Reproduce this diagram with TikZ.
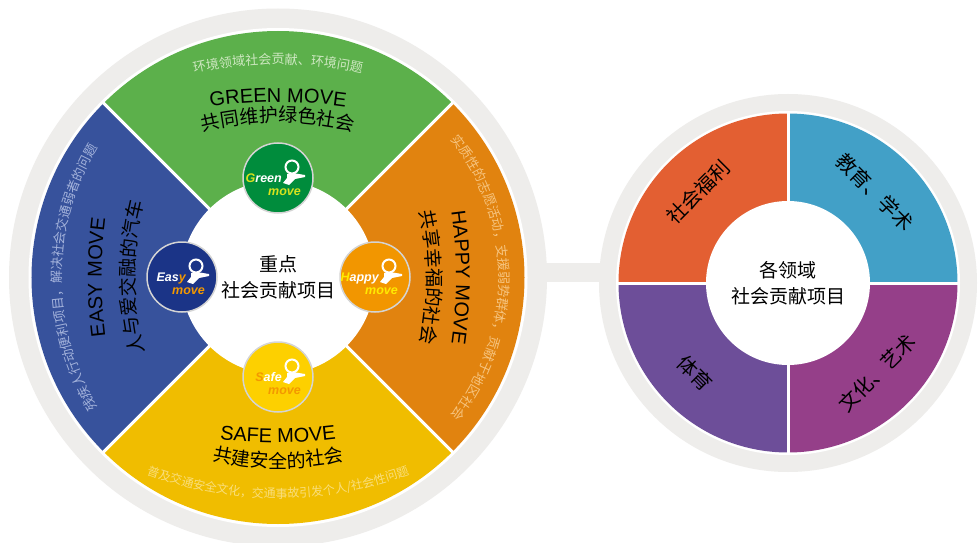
\documentclass[tikz,border=0pt]{standalone}
\usepackage{fontspec}
\setmainfont{Noto Sans CJK SC}
\newfontfamily\latinfont{Liberation Sans}
\usetikzlibrary{calc,decorations.text}

\definecolor{ringgray}{HTML}{EEEDEB}
\definecolor{greenpart}{HTML}{5CB04B}
\definecolor{bluepart}{HTML}{37529C}
\definecolor{orangepart}{HTML}{E1830F}
\definecolor{yellowpart}{HTML}{F0BD00}
\definecolor{greensub}{HTML}{CDE7C0}
\definecolor{bluesub}{HTML}{A3B2DB}
\definecolor{orangesub}{HTML}{F6C47F}
\definecolor{yellowsub}{HTML}{F9DE7C}
\definecolor{welfare}{HTML}{E35F32}
\definecolor{education}{HTML}{42A0C7}
\definecolor{sports}{HTML}{6D4E99}
\definecolor{culture}{HTML}{953F89}
\definecolor{greenlogo}{HTML}{008C3C}
\definecolor{easylogo}{HTML}{1B3487}
\definecolor{happylogo}{HTML}{F29600}
\definecolor{safelogo}{HTML}{FDD000}
\definecolor{logoedge}{HTML}{D4D4D4}
\definecolor{limetext}{HTML}{D7E21E}
\definecolor{ambertext}{HTML}{F39800}
\definecolor{lemontext}{HTML}{FFEA00}

\newcommand{\cjksub}{\fontsize{13}{13}\selectfont}
\newcommand{\cjktitle}{\fontsize{19}{19}\selectfont}
\newcommand{\lattitle}{\latinfont\fontsize{20}{20}\selectfont}

\tikzset{
  logo/.style={circle, draw=logoedge, line width=1.5pt, minimum size=70pt, inner sep=0pt},
  logoword/.style={font=\latinfont\bfseries\itshape\fontsize{12.5}{13}\selectfont, inner sep=0pt, text=white},
  centretext/.style={align=center, font=\fontsize{19}{25.5}\selectfont, inner sep=0pt},
  fieldlabel/.style={font=\fontsize{20}{20}\selectfont, inner sep=0pt},
  arctext/.style={decorate, decoration={text along path, text align=center, text color=#1}},
  arctext/.default=black
}

% logo: name, position, fill, word, colour of move
\newcommand{\movelogo}[5]{%
  \node[logo, fill=#3] (#1) at #2 {};
  \draw[white, line width=2pt] ($(#1)+(14,11)$) circle[radius=6.5pt];
  \fill[white] ($(#1)+(9,4)$) -- ($(#1)+(15,5)$) -- ($(#1)+(27,3)$) -- ($(#1)+(27,1)$)
    -- ($(#1)+(17,-1)$) -- ($(#1)+(11,-7)$) -- ($(#1)+(5,-5)$) -- ($(#1)+(9,0)$) -- cycle;
  \node[logoword, anchor=base east] (#1word) at ($(#1)+(4,-4)$) {#4};
  \node[logoword, anchor=base west, text=#5] (#1move) at ($(#1)+(-10,-17)$) {move};
}

\begin{document}
\begin{tikzpicture}[x=1pt, y=1pt]
\useasboundingbox (0,0) rectangle (978,-543);
\fill[white] (0,0) rectangle (978,-543);
\coordinate (L) at (278,-277.5);
\coordinate (R) at (788,-283);

% grey frames and the bar between them
\fill[ringgray] (535,-263) rectangle (612,-282);
\fill[ringgray] (L) circle[radius=269pt];
\fill[white] (L) circle[radius=249.5pt];
\fill[ringgray] (R) circle[radius=189pt];
\fill[white] (R) circle[radius=172pt];

% key projects
\fill[greenpart] (L) -- ($(L)+(45:246.5pt)$) arc[start angle=45, end angle=135, radius=246.5pt] -- cycle;
\fill[bluepart] (L) -- ($(L)+(135:246.5pt)$) arc[start angle=135, end angle=225, radius=246.5pt] -- cycle;
\fill[yellowpart] (L) -- ($(L)+(225:246.5pt)$) arc[start angle=225, end angle=315, radius=246.5pt] -- cycle;
\fill[orangepart] (L) -- ($(L)+(-45:246.5pt)$) arc[start angle=-45, end angle=45, radius=246.5pt] -- cycle;
\foreach \a in {45,135,225,315}
  \draw[white, line width=3pt] (L) -- ($(L)+(\a:248pt)$);
\fill[white] (L) circle[radius=97pt];

% fields
\fill[education] (R) -- ($(R)+(0:169.5pt)$) arc[start angle=0, end angle=90, radius=169.5pt] -- cycle;
\fill[welfare] (R) -- ($(R)+(90:169.5pt)$) arc[start angle=90, end angle=180, radius=169.5pt] -- cycle;
\fill[sports] (R) -- ($(R)+(180:169.5pt)$) arc[start angle=180, end angle=270, radius=169.5pt] -- cycle;
\fill[culture] (R) -- ($(R)+(270:169.5pt)$) arc[start angle=270, end angle=360, radius=169.5pt] -- cycle;
\foreach \a in {0,90,180,270}
  \draw[white, line width=3pt] (R) -- ($(R)+(\a:171pt)$);
\fill[white] (R) circle[radius=82pt];

% green move
\path[arctext=greensub, decoration={text={|\cjksub|环境领域社会贡献、环境问题}}]
  ($(278,-459)+(110:395pt)$) arc[start angle=110, end angle=70, radius=395pt];
\path[arctext, decoration={text={|\lattitle|GREEN MOVE}}]
  ($(278,-578)+(105:476pt)$) arc[start angle=105, end angle=75, radius=476pt];
\path[arctext, decoration={text={|\cjktitle|共同维护绿色社会}}]
  ($(278,-424)+(110:302pt)$) arc[start angle=110, end angle=70, radius=302pt];

% happy move
\path[arctext=orangesub, decoration={text={|\cjksub|实质性的志愿活动，支援弱势群体，贡献于地区社会}}]
  ($(L)+(50:221pt)$) arc[start angle=50, end angle=-50, radius=221pt];
\path[arctext, decoration={text={|\lattitle|HAPPY MOVE}}]
  ($(-20,-277.5)+(15:476pt)$) arc[start angle=15, end angle=-15, radius=476pt];
\path[arctext, decoration={text={|\cjktitle|共享幸福的社会}}]
  ($(125,-277.5)+(20:302pt)$) arc[start angle=20, end angle=-20, radius=302pt];

% easy move
\path[arctext=bluesub, decoration={text={|\cjksub|残疾人行动便利项目，解决社会交通弱者的问题}}]
  ($(313.7,-277.5)+(215:252pt)$) arc[start angle=215, end angle=145, radius=252pt];
\path[arctext, decoration={text={|\lattitle|EASY MOVE}}]
  ($(577.7,-277.5)+(195:476pt)$) arc[start angle=195, end angle=165, radius=476pt];
\path[arctext, decoration={text={|\cjktitle|人与爱交融的汽车}}]
  ($(436.7,-277.5)+(200:302pt)$) arc[start angle=200, end angle=160, radius=302pt];

% safe move
\path[arctext=yellowsub, decoration={text={|\fontsize{12}{12}\selectfont|普及交通安全文化，交通事故引发个人/社会性问题}}]
  ($(278,-123)+(245:375pt)$) arc[start angle=245, end angle=295, radius=375pt];
\path[arctext, decoration={text={|\lattitle|SAFE MOVE}}]
  ($(278,33.3)+(255:476pt)$) arc[start angle=255, end angle=285, radius=476pt];
\path[arctext, decoration={text={|\cjktitle|共建安全的社会}}]
  ($(278,-166)+(250:302pt)$) arc[start angle=250, end angle=290, radius=302pt];

\node[centretext] (keytext) at (L) {重点\\社会贡献项目};

% logos
\movelogo{greenmark}{(278,-178)}{greenlogo}{\textcolor{limetext}{G}reen}{limetext}
\movelogo{easymark}{(182,-277)}{easylogo}{Eas\textcolor{ambertext}{y}}{ambertext}
\movelogo{happymark}{(375,-277)}{happylogo}{\textcolor{lemontext}{H}appy}{lemontext}
\movelogo{safemark}{(278,-377)}{safelogo}{\textcolor{ambertext}{S}afe}{ambertext}

% field labels
\node[fieldlabel, rotate=45] (welfaretext) at (698,-192) {社会福利};
\node[fieldlabel, rotate=-45] (educationtext) at (875,-192) {教育、学术};
\node[fieldlabel, rotate=-45] (sportstext) at (695,-373) {体育};
\node[fieldlabel, rotate=45] (culturetext) at (877,-373) {文化、艺术};
\node[centretext] (fieldtext) at (R) {各领域\\社会贡献项目};
\end{tikzpicture}
\end{document}
